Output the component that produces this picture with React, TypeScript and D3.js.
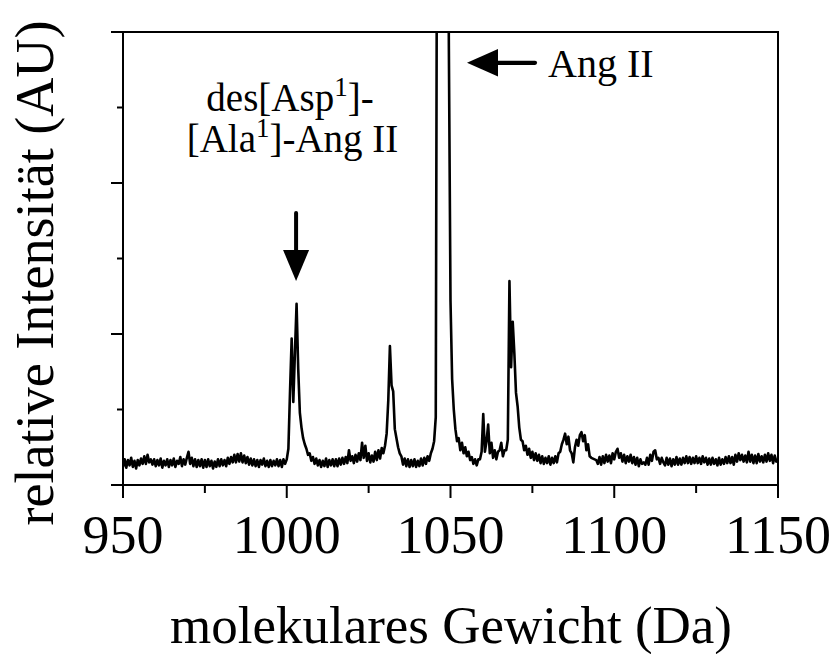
import React from 'react';
import * as d3 from 'd3';

// Spectrum sampled every 0.5 Da starting at 950 Da (intensity in arbitrary units; plot top = 300)
const MASS_START = 950;
const MASS_STEP = 0.5;
const intensity: number[] = [
  // 950.0 - 999.5
  12, 17, 11.5, 16.5, 13, 18, 12, 16, 11, 16.5,
  13, 17.5, 14, 19, 14, 20, 15, 17, 13.5, 17,
  12.5, 16.5, 13, 17.5, 11.5, 16, 13, 17, 12, 16.5,
  13, 17.5, 12, 16, 14, 18.5, 12.5, 17, 13.5, 18,
  22, 14, 18, 12.5, 17, 12, 16.5, 12.5, 17, 11.5,
  16.5, 12, 17, 12.5, 16, 11, 15.5, 12, 17, 12.5,
  17, 13, 16.5, 12.5, 18, 14, 18.5, 15, 20, 15,
  20.5, 15.5, 21, 15, 19.5, 14.5, 18.5, 13.5, 17.5, 13,
  17, 12.5, 16.5, 12, 16.5, 13.5, 17.5, 12.5, 16, 12,
  16.5, 12.5, 16, 13, 17, 12.5, 16.5, 12, 17, 14,
  // 1000.0 - 1009.5
  17, 24, 62, 97, 55, 88, 120, 77, 48, 38,
  31, 27, 24, 20, 21, 16, 18.5, 14, 17.5, 13,
  // 1010.0 - 1029.5
  16.5, 12, 16, 12.5, 17.5, 12, 16.5, 13, 17, 12.5,
  17, 12.5, 17.5, 13.5, 18, 14, 18.5, 14.5, 23, 16,
  19, 14.5, 20, 15.5, 21, 16.5, 28, 18, 26, 16,
  21, 15, 19.5, 15.5, 22, 16.5, 23, 17.5, 24.5, 21,
  // 1030.0 - 1049.5
  26, 34, 56, 92, 66, 62, 37, 31, 25, 21,
  19, 13.5, 17.5, 12.5, 17, 12, 16.5, 12.5, 17, 12,
  16, 12.5, 17.5, 13, 18, 14, 19, 16, 21, 24,
  29, 45, 500, 500, 500, 500, 500, 500, 500, 290,
  // 1050.0 - 1099.5
  122, 70, 50, 37, 29, 31, 23, 28, 21, 25,
  19, 22, 16.5, 18.5, 14, 17, 13, 17, 17, 22,
  47, 22, 29, 40, 21, 28, 18, 23, 17, 22,
  23, 28, 19, 23, 23, 30, 135, 78, 108, 87,
  61, 52, 38, 30, 29, 23, 26, 20, 24, 18,
  22, 16.5, 21, 16, 20, 14.5, 19, 14, 18, 14.5,
  19, 13.5, 18, 14.5, 19, 15, 21, 22, 27, 30,
  34, 27, 32, 23, 21, 15, 25, 30, 26, 33,
  35, 29, 33, 23, 27, 19, 18, 17.5, 17, 16.5,
  14, 18.5, 13.5, 19, 14.5, 20, 15.5, 19.5, 14.5, 21,
  // 1100.0 - 1150.0
  17, 22, 24, 18, 21, 15.5, 20, 14.5, 19, 15.5,
  20, 14.5, 18.5, 13.5, 18, 12.5, 17, 14, 15, 13.5,
  18, 13.5, 20, 16, 22, 23, 17, 18, 14, 18,
  15, 13, 18, 13.5, 17.5, 12.5, 17, 13.5, 18.5, 13.5,
  17.5, 13.5, 18, 14.5, 19, 14.5, 18.5, 14, 18, 14.5,
  19, 14.5, 18, 14, 19, 15, 18, 13.5, 17.5, 13.5,
  18, 14, 17, 13, 18, 13.5, 17, 14, 18.5, 14.5,
  19, 14.5, 18.5, 13.5, 20, 15.5, 21, 16.5, 20, 15.5,
  19.5, 15, 22, 15.5, 20, 14.5, 19.5, 14.5, 20.5, 15.5,
  19, 15, 20, 15.5, 21, 16, 20, 14.5, 19.5, 15.5,
  16,
];

const xDomain = [950, 1150];
const yDomain = [0, 300];
const xMajorTicks = [950, 1000, 1050, 1100, 1150];
const xMinorTicks = [975, 1025, 1075, 1125];
const yMajorTicks = [0, 100, 200, 300];
const yMinorTicks = [50, 150, 250];
const xTitle = 'molekulares Gewicht (Da)';
const yTitle = 'relative Intensität (AU)';
const angLabel = 'Ang II';

const FONT = '"Liberation Serif", "Times New Roman", Times, serif';

export default function App() {
  const W = 836;
  const H = 654;
  const L = 123, T = 32, R = 778, B = 485;
  const x = d3.scaleLinear().domain(xDomain).range([L, R]);
  const y = d3.scaleLinear().domain(yDomain).range([B, T]);
  const pts: [number, number][] = intensity.map((v, i) => [MASS_START + i * MASS_STEP, v]);
  const line = d3.line<[number, number]>().x((d) => x(d[0])).y((d) => y(d[1]));
  const path = line(pts) || '';

  const downX = x(1002.85);

  return (
    <svg
      width={W}
      height={H}
      viewBox={`0 0 ${W} ${H}`}
      style={{ position: 'absolute', left: 0, top: 0, background: '#fff' }}
      fontFamily={FONT}
    >
      <defs>
        <clipPath id="plotclip">
          <rect x={L} y={T} width={R - L} height={B - T} />
        </clipPath>
      </defs>
      <rect x={0} y={0} width={W} height={H} fill="#fff" />

      {/* spectrum */}
      <path
        d={path}
        fill="none"
        stroke="#000"
        strokeWidth={2.6}
        strokeLinejoin="round"
        clipPath="url(#plotclip)"
      />

      {/* frame */}
      <rect x={L} y={T} width={R - L} height={B - T} fill="none" stroke="#000" strokeWidth={2} />

      {/* y ticks */}
      {yMajorTicks.map((t) => (
        <line key={'ym' + t} x1={L - 12} x2={L} y1={y(t)} y2={y(t)} stroke="#000" strokeWidth={2} />
      ))}
      {yMinorTicks.map((t) => (
        <line key={'yn' + t} x1={L - 6} x2={L} y1={y(t)} y2={y(t)} stroke="#000" strokeWidth={2} />
      ))}

      {/* x ticks */}
      {xMajorTicks.map((t) => (
        <g key={'xm' + t}>
          <line x1={x(t)} x2={x(t)} y1={B} y2={B + 13} stroke="#000" strokeWidth={2} />
          <text x={x(t)} y={553} fontSize={54} textAnchor="middle" fill="#000">
            {t}
          </text>
        </g>
      ))}
      {xMinorTicks.map((t) => (
        <line key={'xn' + t} x1={x(t)} x2={x(t)} y1={B} y2={B + 8} stroke="#000" strokeWidth={2} />
      ))}

      {/* axis titles */}
      <text
        x={451}
        y={643}
        fontSize={53}
        textAnchor="middle"
        textLength={562}
        lengthAdjust="spacingAndGlyphs"
        fill="#000"
      >
        {xTitle}
      </text>
      <text
        transform={`translate(53, 273) rotate(-90)`}
        x={0}
        y={0}
        fontSize={54}
        textAnchor="middle"
        textLength={505}
        lengthAdjust="spacingAndGlyphs"
        fill="#000"
      >
        {yTitle}
      </text>

      {/* annotation: des[Asp1]- / [Ala1]-Ang II */}
      <text x={290} y={111} fontSize={39} textAnchor="middle" fill="#000">
        <tspan>des[Asp</tspan>
        <tspan fontSize={27} dy={-15}>1</tspan>
        <tspan dy={15}>]-</tspan>
      </text>
      <text x={292.5} y={152} fontSize={39} textAnchor="middle" fill="#000">
        <tspan>[Ala</tspan>
        <tspan fontSize={27} dy={-15}>1</tspan>
        <tspan dy={15}>]-Ang II</tspan>
      </text>

      {/* down arrow */}
      <line x1={downX} x2={downX} y1={213} y2={252} stroke="#000" strokeWidth={4} strokeLinecap="round" />
      <path d={`M${downX - 13},250 L${downX + 13},250 L${downX},281 Z`} fill="#000" />

      {/* left arrow to Ang II */}
      <line x1={496} x2={535} y1={62.8} y2={62.8} stroke="#000" strokeWidth={4.2} strokeLinecap="round" />
      <path d={`M467,62.8 L498,49 L498,76.5 Z`} fill="#000" />
      <text x={548} y={77} fontSize={40} fill="#000">
        {angLabel}
      </text>
    </svg>
  );
}
